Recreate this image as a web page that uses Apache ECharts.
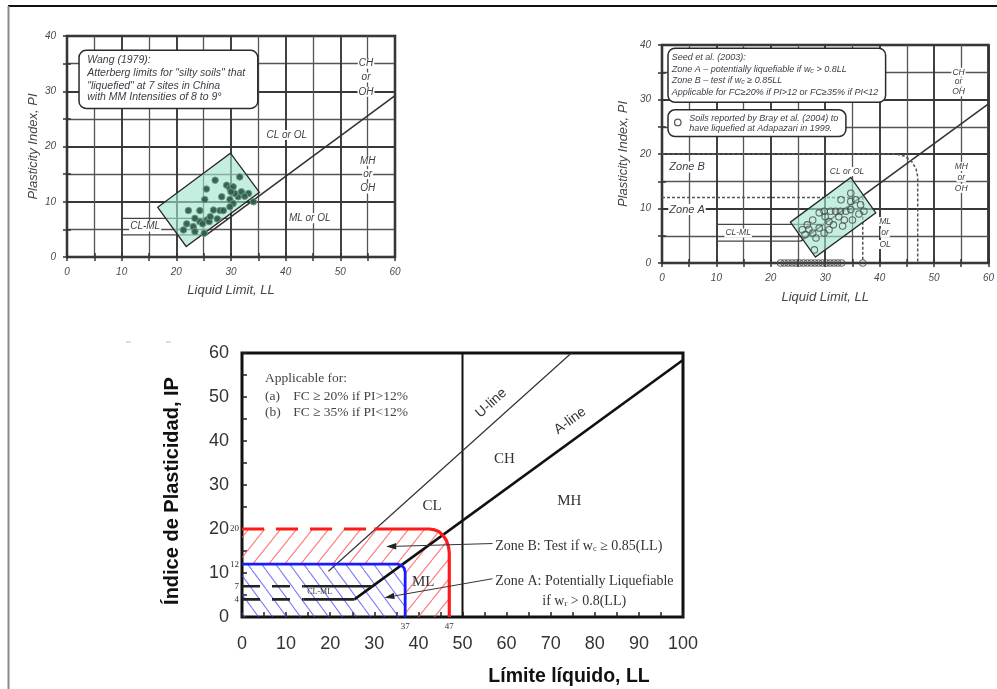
<!DOCTYPE html>
<html><head><meta charset="utf-8">
<script src="https://cdn.jsdelivr.net/npm/echarts@6/dist/echarts.min.js"></script>
<style>html,body{margin:0;padding:0;background:#fff}#c{width:997px;height:689px}</style>
</head><body><div id="c"></div>
<script>
// ---------------- DATA ----------------
// tick labels
const tlTicksX = [0,10,20,30,40,50,60];
const tlTicksY = [0,10,20,30,40];
const trTicksX = [0,10,20,30,40,50,60];
const trTicksY = [0,10,20,30,40];
const bTicksX  = [0,10,20,30,40,50,60,70,80,90,100];
const bTicksY  = [0,10,20,30,40,50,60];

// top-left chart (Wang 1979)
const tlALine = [[25.5,4],[60,29.2]];
const tlClml7 = [[10,7],[29.6,7]];
const tlClml4 = [[10,4],[25.5,4]];
const tlZone  = [[16.6,9],[29.9,18.8],[35.2,11.7],[21.8,1.9]];
const tlPoints = [[22.2,8.4],[24.3,8.4],[21.9,6.0],[23.1,5.5],[24.3,6.4],[25.6,6.7],[26.0,6.4],[25.2,10.4],
  [26.8,8.5],[28.0,8.4],[27.1,13.9],[25.5,12.3],[28.3,10.9],[29.2,13.0],[29.8,12.4],[30.4,12.7],[29.8,10.4],
  [30.4,9.7],[31.3,10.9],[31.6,14.5],[31.9,11.8],[33.2,11.5],[34.1,10.0],[29.8,9.1],[21.3,4.9],[23.4,4.6],
  [25.1,4.3],[26.2,7.3],[23.4,7.0],[30.7,11.5],[28.6,8.4],[24.8,6.0],[27.5,6.9],[30.0,11.8],[32.5,11.0]];
const tlBox = [[2.2,37.4,34.9,26.9]];
const tlBoxText = [[3.7,35.6,'Wang (1979):'],[3.7,33.2,'Atterberg limits for "silty soils" that'],
  [3.7,31.0,'"liquefied" at 7 sites in China'],[3.7,28.9,'with MM Intensities of 8 to 9°']];
const tlLabels = [[54.7,35.0,'CH'],[54.7,32.5,'or'],[54.7,29.9,'OH'],[55,17.4,'MH'],[55,15.0,'or'],[55,12.4,'OH'],
  [40.2,22.1,'CL or OL'],[44.4,7.0,'ML or OL'],[14.3,5.5,'CL-ML']];

// top-right chart (Seed et al. 2003 / Bray et al. 2004)
const trALine = [[25.5,4],[60,29.2]];
const trClml7 = [[10,7.1],[29.7,7.1]];
const trClml4 = [[10,4],[25.5,4]];
const trZoneBLine = [[0,20],[42.9,20],[44.6,19.6],[45.9,18.6],[46.7,17.3],[47,15.8],[47,0]];
const trZoneALine = [[0,12],[36.9,12],[36.9,0]];
const trZone = [[23.6,7.5],[34.7,15.7],[39.3,9.2],[28.2,1.1]];
const trPoints = [[28.0,2.4],[25.8,6.1],[26.7,7.0],[27.7,7.9],[28.9,6.4],[29.8,5.5],[30.7,6.1],[30.7,7.6],
  [28.9,9.2],[29.8,9.5],[31.0,9.5],[31.9,9.5],[32.8,9.5],[33.8,9.5],[34.7,9.8],[32.9,11.6],[34.7,11.3],
  [35.6,11.6],[36.5,10.7],[37.1,9.5],[35.0,7.9],[32.5,8.5],[27.7,5.5],[26.3,5.2],[28.3,4.6],[33.5,7.9],
  [34.7,12.8],[30.0,8.5],[31.5,7.0],[27.0,6.2],[33.2,6.8],[36.2,9.0]];
const trPointsZero = [[21.8,0],[22.5,0],[23.2,0],[23.9,0],[24.6,0],[25.3,0],[26.0,0],[26.7,0],[27.4,0],
  [28.1,0],[28.8,0],[29.5,0],[30.2,0],[30.9,0],[31.6,0],[32.3,0],[33.0,0],[36.9,0]];
const trBoxes = [[1.1,39.4,41.1,29.5],[1.1,28.1,33.8,23.2]];
const trBoxText = [[1.8,37.7,'Seed et al. (2003):'],[1.8,35.5,'Zone A – potentially liquefiable if w{s|c} > 0.8LL'],
  [1.8,33.4,'Zone B – test if w{s|c} ≥ 0.85LL'],[1.8,31.2,'Applicable for FC≥20% if PI>12 or FC≥35% if PI<12'],
  [5.0,26.6,'Soils reported by Bray et al. (2004) to'],[5.0,24.7,'have liquefied at Adapazari in 1999.']];
const trLegendMarker = [[2.9,25.8]];
const trLabels = [[54.5,35.0,'CH'],[54.5,33.2,'or'],[54.5,31.4,'OH'],[55,17.7,'MH'],[55,15.7,'or'],[55,13.7,'OH'],
  [41,7.6,'ML'],[41,5.5,'or'],[41,3.4,'OL'],[34,16.8,'CL or OL'],[14,5.5,'CL-ML']];
const trZoneLabels = [[4.6,17.6,'Zone B'],[4.6,9.8,'Zone A']];

// bottom chart (Seed et al. 2003, Spanish)
const bALine = [[25.5,4],[100,58.4]];
const bULine = [[19.6,10.4],[74.7,60]];
const bLL50 = [[50,0],[50,60]];
const bClml7Dash = [[0,7],[14,7]];
const bClml7 = [[14,7],[29.6,7]];
const bClml4Dash = [[0,4],[14,4]];
const bClml4 = [[14,4],[25.5,4]];
const bRedDash = [[0,20],[30,20]];
const bRedLine = [[30,20],[42.5,20],[43.7,19.8],[44.8,19.3],[45.7,18.4],[46.4,17.3],[46.85,15.9],[47,14.5],[47,0]];
const bBlueLine = [[0,12],[35.3,12],[36.15,11.76],[36.77,11.1],[37,10.2],[37,0]];
const bRedZone = [[0,20],[42.5,20],[43.7,19.8],[44.8,19.3],[45.7,18.4],[46.4,17.3],[46.85,15.9],[47,14.5],[47,0],
  [37,0],[37,10.2],[36.77,11.1],[36.15,11.76],[35.3,12],[0,12]];
const bBlueZone = [[0,0],[0,12],[35.3,12],[36.15,11.76],[36.77,11.1],[37,10.2],[37,0]];
const bRegionLabels = [[43.1,25.1,'CL'],[59.5,35.8,'CH'],[74.2,26.3,'MH'],[41.1,8.0,'ML']];
const bClmlLabel = [[17.6,5.7,'CL-ML']];
const bULabel = [[56.5,48.6,'U-line']];
const bALabel = [[74.4,44.6,'A-line']];
const bApplicable = [[5.2,54.3,'Applicable for:'],[5.2,50.2,'(a)'],[11.6,50.2,'FC ≥ 20% if PI>12%'],
  [5.2,46.6,'(b)'],[11.6,46.6,'FC ≥ 35% if PI<12%']];
const bZoneText = [[57.4,16.1,'Zone B: Test if w{s|c} ≥ 0.85(LL)'],[57.4,8.2,'Zone A: Potentially Liquefiable']];
const bZoneText2 = [[77.6,3.6,'if w{s|r} > 0.8(LL)']];
const bArrows = [[56.8,16.7,32.7,16.0],[56.8,8.7,32.3,4.4]];
const bYNotes = [[0,20,'20'],[0,12,'12'],[0,7,'7'],[0,4,'4']];
const bXNotes = [[37,0,'37'],[47,0,'47']];

// ---------------- HELPERS ----------------
const SANS = "'Liberation Sans', Arial, sans-serif";
const SERIF = "'Liberation Serif', 'Times New Roman', serif";

function hatch(w, h, color, dir) {
  const c = document.createElement('canvas'); c.width = w; c.height = h;
  const g = c.getContext('2d'); g.strokeStyle = color; g.lineWidth = 1.1; g.beginPath();
  for (const o of [-w, 0, w]) {
    if (dir > 0) { g.moveTo(o, h); g.lineTo(o + w, 0); }
    else { g.moveTo(o, 0); g.lineTo(o + w, h); }
  }
  g.stroke(); return c;
}
const redHatch = hatch(16, 20, 'rgba(255,80,80,0.75)', 1);
const blueHatch = hatch(14, 19, 'rgba(70,70,255,0.7)', -1);

function topX(gi, pos, ticks, main, name, gap) {
  return {type:'value', gridIndex:gi, position:pos, min:ticks[0], max:ticks[ticks.length-1], interval:ticks[1]-ticks[0],
    axisLine:{show:false},
    axisTick:{show:true, length:4, lineStyle:{color:'#333', width:1.5}},
    minorTick:{show:true, splitNumber:2, length:4, lineStyle:{color:'#333', width:1.5}},
    splitLine:{show:main, lineStyle:{color:'#383838', width:1.9}},
    minorSplitLine:{show:main, lineStyle:{color:'#555', width:1.3}},
    axisLabel:{show:main, fontFamily:SANS, fontStyle:'italic', fontSize:10, color:'#4a4a55', margin:10},
    name: main ? name : '', nameLocation:'middle', nameGap:gap,
    nameTextStyle:{fontFamily:SANS, fontStyle:'italic', fontSize:13, color:'#44444c'}};
}
function topY(gi, pos, ticks, main, name, gap) {
  const a = topX(gi, pos, ticks, main, name, gap);
  a.axisLabel.margin = 11;
  return a;
}
function lineS(xi, pts, style, z) {
  return {type:'line', xAxisIndex:xi, yAxisIndex:xi, data:pts, symbol:'none', silent:true, z:z||5,
    lineStyle:style, animation:false};
}
function polyS(xi, pts, style, z) {
  return {type:'custom', xAxisIndex:xi, yAxisIndex:xi, z:z||2, silent:true, data:pts, encode:{x:0,y:1},
    renderItem:function(params, api){
      if (params.dataIndex !== 0) return null;
      return {type:'polygon', shape:{points:pts.map(p=>api.coord(p))}, style:style};
    }};
}
function txtS(xi, items, base, opt) {
  opt = opt || {};
  return {type:'custom', xAxisIndex:xi, yAxisIndex:xi, z:opt.z||20, silent:true, clip:false,
    data:items.map(d=>[d[0],d[1]]), encode:{x:0,y:1},
    renderItem:function(params, api){
      const d = items[params.dataIndex];
      const p = api.coord([api.value(0), api.value(1)]);
      return {type:'text', x:p[0]+(opt.dx||0), y:p[1]+(opt.dy||0), rotation:(opt.rot||0)*Math.PI/180,
        style:Object.assign({}, base, {text:d[2]})};
    }};
}
function boxS(xi, items, z) {
  return {type:'custom', xAxisIndex:xi, yAxisIndex:xi, z:z||8, silent:true,
    data:items, encode:{x:[0,2], y:[1,3]},
    renderItem:function(params, api){
      const a = api.coord([api.value(0), api.value(1)]);
      const b = api.coord([api.value(2), api.value(3)]);
      return {type:'rect', shape:{x:Math.min(a[0],b[0]), y:Math.min(a[1],b[1]),
        width:Math.abs(b[0]-a[0]), height:Math.abs(b[1]-a[1]), r:7},
        style:{fill:'#fff', stroke:'#2a2a2a', lineWidth:1.5}};
    }};
}
function arrowS(xi, items) {
  return {type:'custom', xAxisIndex:xi, yAxisIndex:xi, z:12, silent:true, clip:false,
    data:items, encode:{x:[0,2], y:[1,3]},
    renderItem:function(params, api){
      const a = api.coord([api.value(0), api.value(1)]);
      const b = api.coord([api.value(2), api.value(3)]);
      const dx = b[0]-a[0], dy = b[1]-a[1], L = Math.hypot(dx,dy), ux = dx/L, uy = dy/L;
      const bx = b[0]-ux*10, by = b[1]-uy*10;
      return {type:'group', children:[
        {type:'line', shape:{x1:a[0], y1:a[1], x2:bx, y2:by}, style:{stroke:'#333', lineWidth:1}},
        {type:'polygon', shape:{points:[b, [bx-uy*3.2, by+ux*3.2], [bx+uy*3.2, by-ux*3.2]]}, style:{fill:'#222'}}
      ]};
    }};
}

// ---------------- STYLES ----------------
const tlTextBase = {fontFamily:SANS, fontStyle:'italic', fontSize:10, fill:'#3c3c46', align:'center', verticalAlign:'middle',
  backgroundColor:'#fff', padding:[0,1]};
const trTextBase = {fontFamily:SANS, fontStyle:'italic', fontSize:8.5, fill:'#3c3c46', align:'center', verticalAlign:'middle',
  backgroundColor:'#fff', padding:[0,1]};
const subRich = {s:{fontSize:7, fontFamily:SANS, fontStyle:'italic', fill:'#3c3c46', verticalAlign:'bottom', padding:[3,0,0,0]}};
const serifSub = {s:{fontSize:8.5, fontFamily:SERIF, fill:'#333', verticalAlign:'bottom', padding:[5,0,0,0]}};

// ---------------- OPTION ----------------
const option = {
  animation:false,
  backgroundColor:'#fff',
  grid:[
    {left:67, top:36, width:328, height:221, show:true, borderColor:'#1e1e1e', borderWidth:2.5},
    {left:662, top:45, width:328, height:218, show:true, borderColor:'#1e1e1e', borderWidth:2.5},
    {left:242, top:353, width:441, height:264, show:true, borderColor:'#111', borderWidth:3}
  ],
  xAxis:[
    topX(0,'bottom',tlTicksX,true,'Liquid Limit, LL',27),
    topX(0,'top',tlTicksX,false,'',0),
    topX(1,'bottom',trTicksX,true,'Liquid Limit, LL',28),
    topX(1,'top',trTicksX,false,'',0),
    {type:'value', gridIndex:2, position:'bottom', min:bTicksX[0], max:bTicksX[bTicksX.length-1], interval:bTicksX[1]-bTicksX[0],
      axisLine:{show:false},
      axisTick:{show:true, inside:true, length:5, lineStyle:{color:'#222', width:1.5}},
      minorTick:{show:true, splitNumber:2, length:5, lineStyle:{color:'#222', width:1.5}},
      splitLine:{show:false},
      axisLabel:{fontFamily:SANS, fontSize:18, color:'#333', margin:18}}
  ],
  yAxis:[
    topY(0,'left',tlTicksY,true,'Plasticity Index, PI',27),
    topY(0,'right',tlTicksY,false,'',0),
    topY(1,'left',trTicksY,true,'Plasticity Index, PI',32),
    topY(1,'right',trTicksY,false,'',0),
    {type:'value', gridIndex:2, position:'left', min:bTicksY[0], max:bTicksY[bTicksY.length-1], interval:bTicksY[1]-bTicksY[0],
      axisLine:{show:false},
      axisTick:{show:true, inside:true, length:5, lineStyle:{color:'#222', width:1.5}},
      minorTick:{show:true, splitNumber:2, length:5, lineStyle:{color:'#222', width:1.5}},
      splitLine:{show:false},
      axisLabel:{fontFamily:SANS, fontSize:18, color:'#333', margin:13}}
  ],
  graphic:[
    {type:'line', shape:{x1:8, y1:6, x2:997, y2:6}, style:{stroke:'#111', lineWidth:2}},
    {type:'line', shape:{x1:8.5, y1:6, x2:8.5, y2:689}, style:{stroke:'#8a8a8a', lineWidth:2}},
    {type:'line', shape:{x1:126, y1:342, x2:131, y2:342}, style:{stroke:'#bbb', lineWidth:1}},
    {type:'line', shape:{x1:166, y1:342, x2:171, y2:342}, style:{stroke:'#bbb', lineWidth:1}},
    {type:'text', x:569, y:677, style:{text:'Límite líquido, LL', fontFamily:SANS, fontWeight:'bold', fontSize:19.5, fill:'#111', align:'center', verticalAlign:'middle'}},
    {type:'text', x:172, y:491, rotation:Math.PI/2, style:{text:'Índice de Plasticidad, IP', fontFamily:SANS, fontWeight:'bold', fontSize:20, fill:'#111', align:'center', verticalAlign:'middle'}}
  ],
  series:[
    // ---- top-left
    lineS(0, tlALine, {color:'#333', width:1.6}, 3),
    lineS(0, tlClml7, {color:'#444', width:1.2}, 3),
    lineS(0, tlClml4, {color:'#444', width:1.2}, 3),
    polyS(0, tlZone, {fill:'rgba(160,228,205,0.62)', stroke:'#2a2a2a', lineWidth:1.3}, 4),
    {type:'scatter', xAxisIndex:0, yAxisIndex:0, data:tlPoints, symbolSize:6.5, z:6, silent:true,
      itemStyle:{color:'#2f5d4a', borderColor:'#6d9a86', borderWidth:1, opacity:0.95}},
    boxS(0, tlBox),
    txtS(0, tlBoxText, {fontFamily:SANS, fontStyle:'italic', fontSize:10.5, fill:'#3c3c46', align:'left', verticalAlign:'middle'}),
    txtS(0, tlLabels, tlTextBase),
    // ---- top-right
    lineS(2, trALine, {color:'#333', width:1.6}, 3),
    lineS(2, trClml7, {color:'#444', width:1.2}, 3),
    lineS(2, trClml4, {color:'#444', width:1.2}, 3),
    lineS(2, trZoneBLine, {color:'#555', width:1.5, type:[3,2]}, 3),
    lineS(2, trZoneALine, {color:'#555', width:1.5, type:[3,2]}, 3),
    polyS(2, trZone, {fill:'rgba(160,228,205,0.62)', stroke:'#2a2a2a', lineWidth:1.3}, 4),
    {type:'scatter', xAxisIndex:2, yAxisIndex:2, data:trPoints.concat(trPointsZero), symbolSize:6.5, z:6, silent:true,
      itemStyle:{color:'rgba(255,255,255,0)', borderColor:'#4a4a4a', borderWidth:1.1}},
    boxS(2, trBoxes),
    {type:'scatter', xAxisIndex:2, yAxisIndex:2, data:trLegendMarker, symbolSize:6.5, z:22, silent:true,
      itemStyle:{color:'#fff', borderColor:'#333', borderWidth:1.3}},
    txtS(2, trBoxText, {fontFamily:SANS, fontStyle:'italic', fontSize:9, fill:'#3c3c46', align:'left', verticalAlign:'middle', rich:subRich}),
    txtS(2, trLabels, trTextBase),
    txtS(2, trZoneLabels, Object.assign({}, trTextBase, {fontSize:11})),
    // ---- bottom
    polyS(4, bRedZone, {fill:{image:redHatch, repeat:'repeat'}}, 1),
    polyS(4, bBlueZone, {fill:{image:blueHatch, repeat:'repeat'}}, 1),
    lineS(4, bLL50, {color:'#111', width:2}, 3),
    lineS(4, bULine, {color:'#333', width:1.2}, 3),
    lineS(4, bALine, {color:'#111', width:2.6}, 4),
    lineS(4, bClml7Dash, {color:'#222', width:2.6, type:[18,12]}, 4),
    lineS(4, bClml7, {color:'#222', width:2.6}, 4),
    lineS(4, bClml4Dash, {color:'#222', width:2.6, type:[18,12]}, 4),
    lineS(4, bClml4, {color:'#222', width:2.6}, 4),
    lineS(4, bRedDash, {color:'#ff1a1a', width:3.2, type:[22,12]}, 5),
    lineS(4, bRedLine, {color:'#ff1a1a', width:3.2}, 5),
    lineS(4, bBlueLine, {color:'#1a1aff', width:2.8}, 5),
    arrowS(4, bArrows),
    txtS(4, bRegionLabels, {fontFamily:SERIF, fontSize:15, fill:'#333', align:'center', verticalAlign:'middle'}),
    txtS(4, bClmlLabel, {fontFamily:SERIF, fontSize:8, fill:'#333', align:'center', verticalAlign:'middle'}),
    txtS(4, bULabel, {fontFamily:SANS, fontSize:14, fill:'#333', align:'center', verticalAlign:'middle'}, {rot:42}),
    txtS(4, bALabel, {fontFamily:SANS, fontSize:14, fill:'#333', align:'center', verticalAlign:'middle'}, {rot:36}),
    txtS(4, bApplicable, {fontFamily:SERIF, fontSize:13.5, fill:'#444', align:'left', verticalAlign:'middle'}),
    txtS(4, bZoneText, {fontFamily:SERIF, fontSize:14, fill:'#333', align:'left', verticalAlign:'middle', rich:serifSub}),
    txtS(4, bZoneText2, {fontFamily:SERIF, fontSize:14, fill:'#333', align:'center', verticalAlign:'middle', rich:serifSub}),
    txtS(4, bYNotes, {fontFamily:SERIF, fontSize:9, fill:'#333', align:'right', verticalAlign:'middle'}, {dx:-3}),
    txtS(4, bXNotes, {fontFamily:SERIF, fontSize:9, fill:'#333', align:'center', verticalAlign:'top'}, {dy:5})
  ]
};
const chart = echarts.init(document.getElementById('c'));
chart.setOption(option);
</script></body></html>
